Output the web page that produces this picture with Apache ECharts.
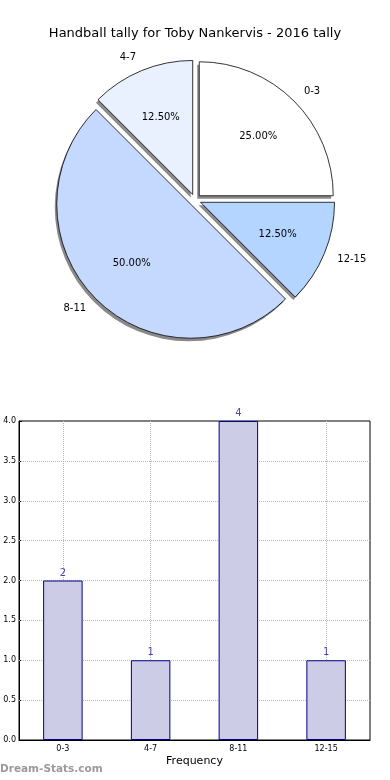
<!DOCTYPE html>
<html>
<head>
<meta charset="utf-8">
<script src="https://cdn.jsdelivr.net/npm/echarts@6/dist/echarts.min.js"></script>
<style>
html,body{margin:0;padding:0;background:#fff;}
#c{width:390px;height:780px;}
</style>
</head>
<body>
<div id="c"></div>
<script>
var titleText = 'Handball tally for Toby Nankervis - 2016 tally';
var categories = ['0-3', '4-7', '8-11', '12-15'];
var counts = [2, 1, 4, 1];
var pieColors = ['#ffffff', '#e9f1ff', '#c5d9ff', '#b4d5ff'];
var yTicks = [0, 0.5, 1, 1.5, 2, 2.5, 3, 3.5, 4];
var xAxisName = 'Frequency';
var watermark = 'Dream-Stats.com';

var total = counts.reduce(function(a, b){ return a + b; }, 0);
var font = 'DejaVu Sans';
var R = 134;
var CX = 195, CY = 200;

var pieData = categories.map(function(c, i){
  return { name: c, value: counts[i], selected: true, itemStyle: { color: pieColors[i] } };
});
var plainData = categories.map(function(c, i){
  return { name: c, value: counts[i], selected: true };
});

var gridStyle = { type: 'dotted', color: '#b8b8b8', width: 1 };
var gridLines = categories.map(function(c){ return { xAxis: c }; })
  .concat(yTicks.slice(1, -1).map(function(v){ return { yAxis: v }; }));

var chart = echarts.init(document.getElementById('c'), null, { renderer: 'canvas' });
chart.setOption({
  animation: false,
  backgroundColor: '#ffffff',
  title: {
    text: titleText,
    left: 'center',
    top: 22,
    textStyle: { fontFamily: font, fontSize: 13, fontWeight: 'normal', color: '#000' }
  },
  graphic: [{
    type: 'text',
    left: 0,
    top: 764,
    style: { text: watermark, font: 'bold 10.5px "DejaVu Sans"', fill: '#9a9a9a' }
  }],
  grid: { left: 19, right: 20, top: 421, bottom: 40, show: true, borderColor: '#000', borderWidth: 1, containLabel: false },
  xAxis: {
    type: 'category',
    data: categories,
    boundaryGap: true,
    name: xAxisName,
    nameLocation: 'middle',
    nameGap: 16,
    nameTextStyle: { fontFamily: font, fontSize: 11, color: '#000' },
    axisLine: { show: true, lineStyle: { color: '#000' } },
    axisTick: { show: true, alignWithLabel: true, inside: true, length: 3, lineStyle: { color: '#000' } },
    axisLabel: { fontFamily: font, fontSize: 8, color: '#000', margin: 5 },
    splitLine: { show: false }
  },
  yAxis: {
    type: 'value',
    min: 0,
    max: 4,
    interval: 0.5,
    axisLine: { show: true, lineStyle: { color: '#000' } },
    axisTick: { show: true, inside: true, length: 3, lineStyle: { color: '#000' } },
    axisLabel: { fontFamily: font, fontSize: 8, color: '#000', margin: 3, formatter: function(v){ return v.toFixed(1); } },
    splitLine: { show: false }
  },
  series: [
    {
      type: 'pie',
      center: [CX - 2, CY + 3],
      radius: [0, R],
      startAngle: 0,
      clockwise: false,
      selectedMode: 'multiple',
      selectedOffset: 6,
      silent: true,
      data: plainData,
      itemStyle: { color: '#8a8a8a', borderWidth: 0 },
      label: { show: false },
      labelLine: { show: false },
      emphasis: { disabled: true },
      select: { itemStyle: { color: '#8a8a8a', borderWidth: 0 } },
      z: 1
    },
    {
      type: 'pie',
      center: [CX, CY],
      radius: [0, R],
      startAngle: 0,
      clockwise: false,
      selectedMode: 'multiple',
      selectedOffset: 6,
      avoidLabelOverlap: false,
      silent: true,
      data: pieData,
      itemStyle: { borderColor: '#000', borderWidth: 0.8 },
      label: {
        show: true, position: 'outside', fontFamily: font, fontSize: 10, color: '#000',
        distanceToLabelLine: 0,
        formatter: '{b}'
      },
      labelLine: { show: false, length: 14, length2: 0 },
      emphasis: { disabled: true },
      select: { itemStyle: { borderColor: '#000', borderWidth: 0.8 } },
      z: 2
    },
    {
      type: 'pie',
      center: [CX, CY],
      radius: [0, R * 1.2],
      startAngle: 0,
      clockwise: false,
      selectedMode: 'multiple',
      selectedOffset: 6,
      silent: true,
      data: plainData,
      itemStyle: { color: 'rgba(0,0,0,0)', borderWidth: 0 },
      label: {
        show: true, position: 'inside', fontFamily: font, fontSize: 10, color: '#000',
        formatter: function(p){ return (p.value / total * 100).toFixed(2) + '%'; }
      },
      labelLine: { show: false },
      emphasis: { disabled: true },
      select: { itemStyle: { color: 'rgba(0,0,0,0)', borderWidth: 0 } },
      z: 3
    },
    {
      type: 'bar',
      data: counts,
      barWidth: '45%',
      itemStyle: { color: '#ccccE6', borderColor: '#00008b', borderWidth: 1 },
      label: { show: false },
      silent: true,
      z: 3,
      markLine: {
        silent: true,
        z: 2,
        symbol: ['none', 'none'],
        label: { show: false },
        lineStyle: gridStyle,
        emphasis: { disabled: true },
        data: gridLines
      }
    },
    {
      type: 'scatter',
      data: counts,
      symbolSize: 1,
      itemStyle: { color: 'rgba(0,0,0,0)' },
      clip: false,
      silent: true,
      z: 5,
      label: { show: true, position: 'top', distance: 2, fontFamily: font, fontSize: 10, color: '#1a1aa0' },
      labelLayout: { hideOverlap: false },
      emphasis: { disabled: true }
    }
  ]
});
</script>
</body>
</html>
